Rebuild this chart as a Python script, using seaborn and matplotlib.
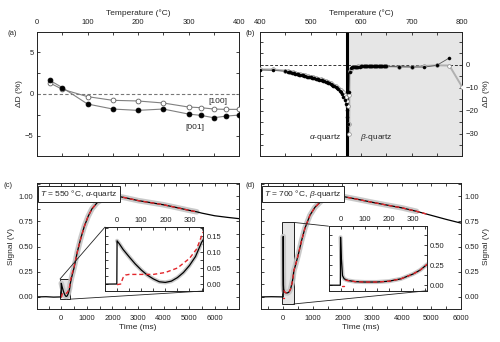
import matplotlib
matplotlib.use("Agg")
import matplotlib.pyplot as plt
import pandas as pd
import seaborn as sns
from matplotlib.patches import Rectangle, ConnectionPatch
from matplotlib.ticker import MultipleLocator, FixedLocator, FormatStrFormatter

# (a) anisotropy below 400 °C
temp_a = [25, 50, 100, 150, 200, 250, 300, 325, 350, 375, 400]
dD_001_a = [1.64, 0.76, -1.2, -1.8, -1.96, -1.8, -2.4, -2.56, -2.84, -2.64, -2.52]
dD_100_a = [1.32, 0.56, -0.32, -0.76, -0.84, -1.08, -1.56, -1.64, -1.8, -1.84, -1.84]

# (b) 400-800 °C, filled and open series
temp_b_fill = [400, 425, 450, 455, 457.5, 460, 462.5, 465, 467.5, 470, 472.5, 475, 477.5, 480,
               482.5, 485, 487.5, 490, 492.5, 495, 497.5, 500, 502.5, 505, 507.5, 510, 512.5,
               515, 517.5, 520, 522.5, 525, 527.5, 530, 532.5, 535, 537.5, 540, 542.5, 545,
               547.5, 550, 552.5, 555, 557.5, 560, 562.5, 565, 567.5, 570, 571.5, 572.5, 573.5,
               576, 577.5, 580, 582.5, 585, 587.5, 590, 592.5, 595, 597.5, 600, 602.5, 605,
               607.5, 610, 612.5, 615, 617.5, 620, 622.5, 625, 627.5, 630, 632.5, 635, 637.5,
               640, 642.5, 645, 647.5, 650, 675, 700, 725, 750, 775]
dD_b_fill = [-2.2, -2.4, -2.8, -3.1, -3.2, -3.3, -3.4, -3.6, -3.7, -3.9, -4.0, -4.1, -4.2, -4.4,
             -4.5, -4.6, -4.8, -4.9, -5.1, -5.2, -5.3, -5.5, -5.6, -5.7, -5.9, -6.0, -6.2,
             -6.3, -6.5, -6.6, -6.8, -7.0, -7.2, -7.4, -7.6, -7.8, -8.1, -8.4, -8.7, -9.0,
             -9.4, -9.8, -10.2, -10.7, -11.3, -12.0, -12.8, -13.8, -15.2, -17.0, -19.5, -22.5, -25.5,
             -12.0, -3.0, -1.5, -1.1, -1.0, -0.9, -0.9, -0.8, -0.8, -0.8, -0.7, -0.7, -0.7,
             -0.7, -0.7, -0.7, -0.7, -0.7, -0.7, -0.7, -0.7, -0.7, -0.7, -0.7, -0.7, -0.7,
             -0.7, -0.7, -0.7, -0.7, -0.7, -0.8, -0.9, -1.0, -0.2, 3.0]
temp_b_open = [400, 425, 450, 455, 460, 465, 470, 475, 480, 485, 490, 495, 500, 505, 510, 515,
               520, 525, 530, 535, 540, 545, 550, 555, 560, 565, 568, 570, 572, 574, 576, 576.5,
               577, 577.5, 580, 585, 590, 595, 600, 605, 610, 615, 620, 625, 630, 635, 640, 645,
               650, 675, 700, 725, 750, 775, 800]
dD_b_open = [-2.0, -2.0, -2.5, -2.8, -3.0, -3.3, -3.6, -3.8, -4.1, -4.3, -4.6, -4.9, -5.2, -5.4,
             -5.7, -6.0, -6.3, -6.7, -7.1, -7.5, -8.0, -8.6, -9.2, -9.9, -10.8, -12.0, -13.0,
             -14.0, -15.5, -18.0, -25.5, -30.0, -13.0, -2.5, -1.6, -1.0, -0.8, -0.7, -0.7,
             -0.7, -0.7, -0.7, -0.7, -0.7, -0.7, -0.7, -0.7, -0.7, -0.7, -0.8, -0.9, -0.5,
             -0.2, -0.3, -9.5]
t_transition = 573

# (c) signal at 550 °C
time_c = [-950, -600, -300, -1, 0, 10, 25, 50, 75, 100, 125, 150, 175, 200, 225, 250, 275, 300,
          325, 350, 375, 400, 500, 630, 760, 900, 1050, 1200, 1400, 1600, 1800, 2000, 2200,
          2500, 3000, 3500, 4000, 4500, 5000, 5300, 5500, 6000, 6500, 7000]
signal_c = [0.0, 0.002, -0.002, 0.0, 0.135, 0.125, 0.108, 0.085, 0.063, 0.044, 0.028, 0.016,
            0.007, 0.005, 0.009, 0.02, 0.036, 0.058, 0.086, 0.13, 0.16, 0.19, 0.29, 0.45, 0.58,
            0.70, 0.80, 0.875, 0.935, 0.97, 0.99, 1.0, 1.0, 0.985, 0.957, 0.936, 0.915, 0.888,
            0.86, 0.845, 0.832, 0.806, 0.79, 0.776]
time_fit_c = [0, 15, 25, 35, 50, 100, 150, 200, 250, 300, 330, 355, 400, 500, 630, 760, 900,
              1050, 1200, 1400, 1600, 1800, 2000, 2200, 2500, 3000, 3500, 4000, 4500, 5000, 5300]
fit_c = [-0.002, 0.0, 0.02, 0.028, 0.03, 0.03, 0.03, 0.036, 0.05, 0.08, 0.11, 0.16, 0.21, 0.30,
         0.45, 0.58, 0.70, 0.80, 0.875, 0.935, 0.97, 0.99, 1.0, 1.0, 0.985, 0.957, 0.936, 0.915,
         0.888, 0.86, 0.845]
band_end_c = 5300

# (d) signal at 700 °C
time_d = [-750, -400, -1, 0, 3, 8, 15, 30, 60, 100, 150, 200, 250, 300, 330, 358, 400, 500, 620,
          730, 900, 1070, 1300, 1630, 1970, 2500, 3000, 3500, 4000, 4500, 5000, 5500, 6000]
signal_d = [0.0, 0.002, 0.0, 0.6, 0.35, 0.12, 0.08, 0.06, 0.045, 0.04, 0.04, 0.05, 0.08, 0.14,
            0.19, 0.26, 0.30, 0.41, 0.56, 0.68, 0.81, 0.89, 0.957, 0.99, 1.0, 0.97, 0.94, 0.912,
            0.885, 0.85, 0.81, 0.77, 0.733]
time_fit_d_pre = [5, 16]
fit_d_pre = [-0.01, -0.01]
time_fit_d = [20, 30, 60, 100, 150, 200, 250, 300, 330, 358, 400, 500, 620, 730, 900, 1070,
              1300, 1630, 1970, 2500, 3000, 3500, 4000, 4500, 4900]
fit_d = [0.065, 0.058, 0.045, 0.04, 0.04, 0.05, 0.08, 0.14, 0.19, 0.26, 0.30, 0.41, 0.56, 0.68,
         0.81, 0.89, 0.957, 0.99, 1.0, 0.97, 0.94, 0.912, 0.885, 0.85, 0.818]
band_end_d = 4900

sns.set_theme(style="ticks")
plt.rcParams['font.family'] = ['Liberation Sans', 'DejaVu Sans']
plt.rcParams['mathtext.fontset'] = 'custom'
plt.rcParams['mathtext.it'] = 'Liberation Sans:italic'
plt.rcParams['mathtext.rm'] = 'Liberation Sans'
plt.rcParams['axes.linewidth'] = 0.7
plt.rcParams['axes.edgecolor'] = '#222222'

FS = 5.5
fig = plt.figure(figsize=(5, 3.42), dpi=100)
ax_a = fig.add_axes([0.074, 0.544, 0.404, 0.3626])
ax_b = fig.add_axes([0.52, 0.544, 0.404, 0.3626])
ax_c = fig.add_axes([0.074, 0.0965, 0.404, 0.368])
ax_d = fig.add_axes([0.522, 0.0965, 0.4, 0.368])
in_c = fig.add_axes([0.21, 0.149, 0.196, 0.187])
in_d = fig.add_axes([0.657, 0.1497, 0.196, 0.189])


def style(ax, xmaj, xmin, ymaj, ymin, xpos='bottom', ypos='left'):
    ax.xaxis.set_major_locator(MultipleLocator(xmaj))
    ax.xaxis.set_minor_locator(MultipleLocator(xmin))
    if ymaj is not None:
        ax.yaxis.set_major_locator(MultipleLocator(ymaj))
        ax.yaxis.set_minor_locator(MultipleLocator(ymin))
    ax.tick_params(which='both', direction='in', top=True, bottom=True, left=True, right=True,
                   length=2.5, width=0.6, labelsize=FS, colors='#222222')
    ax.tick_params(axis='x', pad=4,
                   labeltop=(xpos == 'top'), labelbottom=(xpos == 'bottom'))
    ax.tick_params(axis='y', pad=2.5,
                   labelleft=(ypos == 'left'), labelright=(ypos == 'right'))
    ax.xaxis.set_label_position(xpos)
    ax.yaxis.set_label_position(ypos)


# ---------- (a)
ax_a.axhline(0, color='#777777', ls='--', lw=0.8, dashes=(3, 2))
df_a = pd.DataFrame({'T': temp_a, 'c001': dD_001_a, 'c100': dD_100_a})
for col, fc in [('c100', 'white'), ('c001', 'black')]:
    sns.lineplot(data=df_a, x='T', y=col, ax=ax_a, color='#808080', lw=0.8,
                 estimator=None, sort=False)
    sns.scatterplot(data=df_a, x='T', y=col, ax=ax_a, s=12, color=fc,
                    edgecolor='#606060' if fc == 'white' else 'black', linewidth=0.6, zorder=3)
ax_a.set_xlim(0, 400)
ax_a.set_ylim(-7.4, 7.4)
style(ax_a, 100, 50, 5, 2.5, xpos='top', ypos='left')
ax_a.set_xlabel('Temperature (°C)', fontsize=6, labelpad=3)
ax_a.set_ylabel('ΔD (%)', fontsize=6, labelpad=1)
ax_a.text(358, -0.9, '[100]', fontsize=6, ha='center', va='center')
ax_a.text(313, -3.95, '[001]', fontsize=6, ha='center', va='center')

# ---------- (b)
ax_b.axvspan(t_transition, 800, color='#e6e6e6', zorder=0, lw=0)
ax_b.axhline(0, color='#333333', ls='--', lw=0.7, dashes=(3, 2), zorder=1)
df_bo = pd.DataFrame({'T': temp_b_open, 'dD': dD_b_open})
df_bf = pd.DataFrame({'T': temp_b_fill, 'dD': dD_b_fill})
sns.lineplot(data=df_bo, x='T', y='dD', ax=ax_b, color='#b0b0b0', lw=1.4,
             estimator=None, sort=False)
sns.lineplot(data=df_bf, x='T', y='dD', ax=ax_b, color='#555555', lw=0.6,
             estimator=None, sort=False)
ax_b.axvline(t_transition, color='black', lw=2.2, zorder=2.5)
sns.scatterplot(data=df_bo, x='T', y='dD', ax=ax_b, s=7, color='white',
                edgecolor='#8a8a8a', linewidth=0.5, zorder=3)
sns.scatterplot(data=df_bf, x='T', y='dD', ax=ax_b, s=5, color='black',
                edgecolor='black', linewidth=0.3, zorder=4)
ax_b.set_xlim(400, 800)
ax_b.set_ylim(-39.6, 14.3)
style(ax_b, 100, 50, None, None, xpos='top', ypos='right')
ax_b.yaxis.set_major_locator(FixedLocator([-30, -20, -10, 0]))
ax_b.yaxis.set_minor_locator(FixedLocator([-35, -25, -15, -5, 5, 10]))
ax_b.set_xlabel('Temperature (°C)', fontsize=6, labelpad=3)
ax_b.set_ylabel('ΔD (%)', fontsize=6, labelpad=3)
ax_b.text(529, -31.5, r'$\alpha$-quartz', fontsize=6, ha='center', va='center')
ax_b.text(630, -31.5, r'$\beta$-quartz', fontsize=6, ha='center', va='center')


# ---------- (c) and (d)
def draw_signal(ax, t, s, tfit, fit, band_end, lw_band, extra=None):
    df = pd.DataFrame({'t': t, 's': s})
    band = df[(df['t'] >= 0) & (df['t'] <= band_end)]
    sns.lineplot(data=band, x='t', y='s', ax=ax, color='#c4c4c4', lw=lw_band,
                 estimator=None, sort=False, alpha=0.9)
    sns.lineplot(data=df, x='t', y='s', ax=ax, color='black', lw=0.9,
                 estimator=None, sort=False)
    dfit = pd.DataFrame({'t': tfit, 's': fit})
    sns.lineplot(data=dfit, x='t', y='s', ax=ax, color='#e3262b', lw=1.0,
                 estimator=None, sort=False, dashes=False, linestyle=(0, (3, 2)))
    if extra is not None:
        dpre = pd.DataFrame({'t': extra[0], 's': extra[1]})
        sns.lineplot(data=dpre, x='t', y='s', ax=ax, color='#e3262b', lw=1.0,
                     estimator=None, sort=False)
    ax.set_xlabel('')
    ax.set_ylabel('')


for ax, axin, t, s, tf, f, be, extra, xl, ylim_in, yin_maj, yin_min, label, ypos, corner in [
        (ax_c, in_c, time_c, signal_c, time_fit_c, fit_c, band_end_c, None, (-950, 6950),
         (-0.022, 0.178), 0.05, 0.025, r'$T$ = 550 °C, $\alpha$-quartz', 'left', 'left'),
        (ax_d, in_d, time_d, signal_d, time_fit_d, fit_d, band_end_d,
         (time_fit_d_pre, fit_d_pre), (-750, 6000),
         (-0.07, 0.74), 0.25, 0.125, r'$T$ = 700 °C, $\beta$-quartz', 'right', 'right')]:
    draw_signal(ax, t, s, tf, f, be, 4.0, extra)
    ax.set_xlim(*xl)
    ax.set_ylim(-0.12, 1.13)
    style(ax, 1000, 500, 0.25, 0.125, xpos='bottom', ypos=ypos)
    ax.yaxis.set_major_formatter(FormatStrFormatter('%.2f'))
    ax.set_xlabel('Time (ms)', fontsize=6, labelpad=2)
    ax.set_ylabel('Signal (V)', fontsize=6, labelpad=2.5)
    ax.text(0.015, 0.963, label, transform=ax.transAxes, fontsize=6, ha='left', va='top',
            bbox=dict(boxstyle='square,pad=0.25', fc='white', ec='#222222', lw=0.7))

    draw_signal(axin, t, s, tf, f, be, 3.0, extra)
    axin.set_xlim(-50, 356)
    axin.set_ylim(*ylim_in)
    style(axin, 100, 50, yin_maj, yin_min, xpos='top', ypos='right')
    axin.yaxis.set_major_formatter(FormatStrFormatter('%.2f'))
    axin.tick_params(axis='x', pad=2)

    x0, x1 = axin.get_xlim()
    y0, y1 = axin.get_ylim()
    ax.add_patch(Rectangle((x0, y0), x1 - x0, y1 - y0, fc='#e6e6e6', ec='#222222',
                           lw=0.7, zorder=1))
    xa = x0 if corner == 'left' else x1
    fig.add_artist(ConnectionPatch(xyA=(xa, y1), coordsA=ax.transData, xyB=(0, 1),
                                   coordsB=axin.transAxes, color='#222222', lw=0.6))
    fig.add_artist(ConnectionPatch(xyA=(x1, y0), coordsA=ax.transData, xyB=(1, 0),
                                   coordsB=axin.transAxes, color='#222222', lw=0.6))

# panel letters
for txt, x, y in [('(a)', 0.014, 0.903), ('(b)', 0.492, 0.903),
                  ('(c)', 0.008, 0.459), ('(d)', 0.49, 0.459)]:
    fig.text(x, y, txt, fontsize=5.5, ha='left', va='center')

fig.savefig('out.png', dpi=100)
